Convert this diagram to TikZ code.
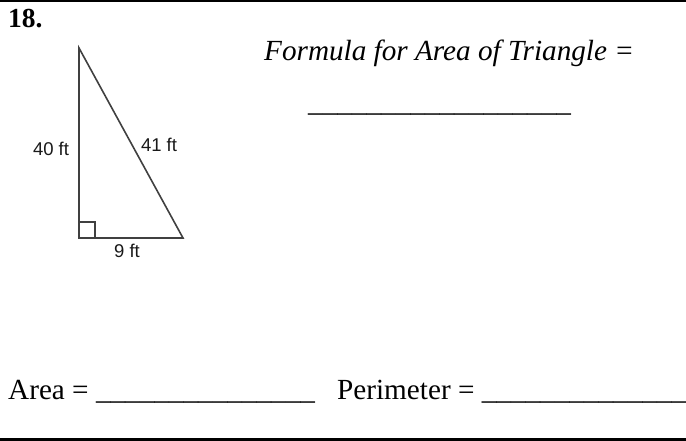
\documentclass[tikz,border=0pt]{standalone}
\usepackage{fontspec}
\setmainfont{Liberation Serif}
\newfontfamily\arialf{Liberation Sans}
\begin{document}
\begin{tikzpicture}[x=1pt,y=-1pt,
  txt/.style={inner sep=0pt, anchor=base west, font=\fontsize{29.2}{34}\selectfont},
  lbl/.style={inner sep=0pt, font=\arialf\fontsize{18.5}{22}\selectfont, text=black!90},
  tri/.style={line width=1.6pt, draw=black!75},
  rule/.style={line width=#1, draw=black}]
\useasboundingbox (0,0) rectangle (686,441);
\coordinate (tl) at (0,1);
\coordinate (tr) at (686,1);
\draw[rule=1.5pt] (tl) -- (tr);
\coordinate (bl) at (0,439.5);
\coordinate (br) at (686,439.5);
\draw[rule=3pt] (bl) -- (br);
\node[txt, font=\bfseries\fontsize{27.5}{32}\selectfont] (num) at (8,28) {18.};
% triangle
\coordinate (A) at (79,48);
\coordinate (B) at (79,238);
\coordinate (C) at (183,238);
\draw[tri, line join=miter] (A) -- (B) -- (C) -- cycle;
\coordinate (s1) at (79,222);
\coordinate (s2) at (95,222);
\coordinate (s3) at (95,238);
\draw[line width=1.4pt, draw=black!75] (s1) -- (s2) -- (s3);
\node[lbl] (l40) at (51,149) {40 ft};
\node[lbl] (l41) at (159,145) {41 ft};
\node[lbl] (l9) at (127,251) {9 ft};
% formula
\node[txt, font=\itshape\fontsize{29.2}{34}\selectfont] (formula) at (264,60.5) {Formula for Area of Triangle =};
\node[txt] (fline) at (308,112) {\_\_\_\_\_\_\_\_\_\_\_\_\_\_\_\_\_\_};
% bottom
\node[txt] (area) at (8,399) {Area = \_\_\_\_\_\_\_\_\_\_\_\_\_\_\_};
\node[txt] (perim) at (337,399) {Perimeter = \_\_\_\_\_\_\_\_\_\_\_\_\_\_};
\end{tikzpicture}
\end{document}
